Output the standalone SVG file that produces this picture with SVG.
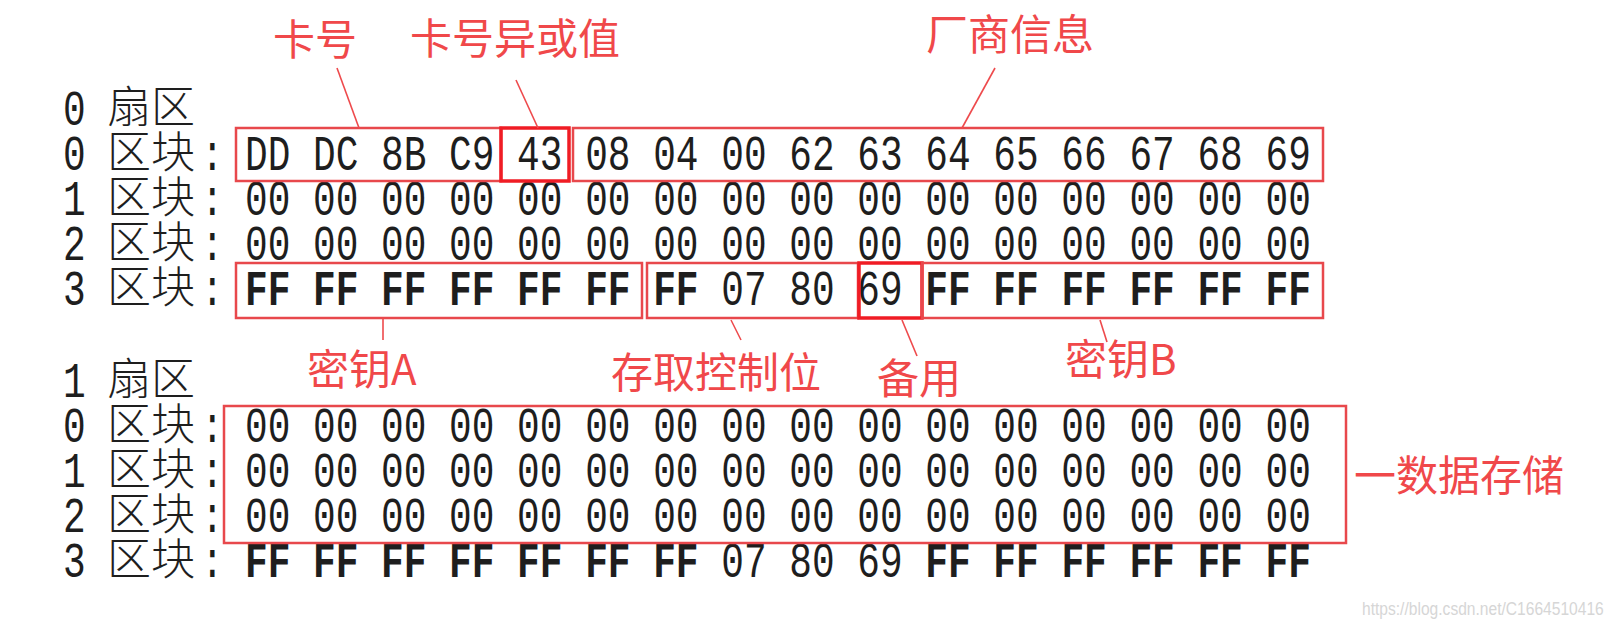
<svg xmlns="http://www.w3.org/2000/svg" width="1617" height="627" viewBox="0 0 1617 627">
<style>
.hex{font-family:"Liberation Mono","DejaVu Sans Mono",monospace;font-size:37.8px;fill:#1e1e1e}
.b{font-weight:bold}
.cjk{font-family:"Noto Sans CJK SC",sans-serif;font-size:44px;fill:#1e1e1e;font-weight:300}
.lbl{font-family:"Noto Sans CJK SC",sans-serif;font-size:42px;fill:#f0484a}
.box{fill:none;stroke:#e8484c;stroke-width:2.5}
.hot{fill:none;stroke:#f01c24;stroke-width:3.5}
.lead{stroke:#ee4a4c;stroke-width:1.6;fill:none}
.wm{font-family:"Liberation Sans",sans-serif;font-size:15.6px;fill:#d6d6d6}
</style>
<rect width="1617" height="627" fill="#ffffff"/>

<g id="sector0-labels">
  <text class="hex" transform="translate(63 125) scale(1 1.32)">0</text>
  <text class="cjk" x="107" y="123">扇区</text>
  <text class="hex" transform="translate(63 170) scale(1 1.32)">0</text>
  <text class="cjk" x="107" y="168">区块</text>
  <text class="hex" transform="translate(201 170) scale(1 1.32)">:</text>
  <text class="hex" transform="translate(63 215) scale(1 1.32)">1</text>
  <text class="cjk" x="107" y="213">区块</text>
  <text class="hex" transform="translate(201 215) scale(1 1.32)">:</text>
  <text class="hex" transform="translate(63 260) scale(1 1.32)">2</text>
  <text class="cjk" x="107" y="258">区块</text>
  <text class="hex" transform="translate(201 260) scale(1 1.32)">:</text>
  <text class="hex" transform="translate(63 305) scale(1 1.32)">3</text>
  <text class="cjk" x="107" y="303">区块</text>
  <text class="hex" transform="translate(201 305) scale(1 1.32)">:</text>
</g>

<g id="sector0-data">
  <text class="hex" transform="translate(245 170) scale(1 1.32)">DD DC 8B C9 43 08 04 00 62 63 64 65 66 67 68 69</text>
  <text class="hex" transform="translate(245 215) scale(1 1.32)">00 00 00 00 00 00 00 00 00 00 00 00 00 00 00 00</text>
  <text class="hex" transform="translate(245 260) scale(1 1.32)">00 00 00 00 00 00 00 00 00 00 00 00 00 00 00 00</text>
  <text class="hex" transform="translate(245 305) scale(1 1.32)"><tspan class="b">FF FF FF FF FF FF FF</tspan> 07 80 69 <tspan class="b">FF FF FF FF FF FF</tspan></text>
</g>

<g id="sector1-labels">
  <text class="hex" transform="translate(63 397) scale(1 1.32)">1</text>
  <text class="cjk" x="107" y="395">扇区</text>
  <text class="hex" transform="translate(63 442) scale(1 1.32)">0</text>
  <text class="cjk" x="107" y="440">区块</text>
  <text class="hex" transform="translate(201 442) scale(1 1.32)">:</text>
  <text class="hex" transform="translate(63 487) scale(1 1.32)">1</text>
  <text class="cjk" x="107" y="485">区块</text>
  <text class="hex" transform="translate(201 487) scale(1 1.32)">:</text>
  <text class="hex" transform="translate(63 532) scale(1 1.32)">2</text>
  <text class="cjk" x="107" y="530">区块</text>
  <text class="hex" transform="translate(201 532) scale(1 1.32)">:</text>
  <text class="hex" transform="translate(63 577) scale(1 1.32)">3</text>
  <text class="cjk" x="107" y="575">区块</text>
  <text class="hex" transform="translate(201 577) scale(1 1.32)">:</text>
</g>

<g id="sector1-data">
  <text class="hex" transform="translate(245 442) scale(1 1.32)">00 00 00 00 00 00 00 00 00 00 00 00 00 00 00 00</text>
  <text class="hex" transform="translate(245 487) scale(1 1.32)">00 00 00 00 00 00 00 00 00 00 00 00 00 00 00 00</text>
  <text class="hex" transform="translate(245 532) scale(1 1.32)">00 00 00 00 00 00 00 00 00 00 00 00 00 00 00 00</text>
  <text class="hex" transform="translate(245 577) scale(1 1.32)"><tspan class="b">FF FF FF FF FF FF FF</tspan> 07 80 69 <tspan class="b">FF FF FF FF FF FF</tspan></text>
</g>

<g id="card-number">
  <rect class="box" x="236" y="128" width="265" height="53"/>
  <text class="lbl" x="273" y="55">卡号</text>
</g>
<g id="card-xor">
  <rect class="hot" x="501" y="128" width="68" height="53"/>
  <text class="lbl" x="410" y="54">卡号异或值</text>
</g>
<g id="vendor-info">
  <rect class="box" x="573" y="128" width="750" height="53"/>
  <text class="lbl" x="926" y="50">厂商信息</text>
</g>
<g id="key-a">
  <rect class="box" x="236" y="263" width="406" height="55"/>
  <text class="lbl" x="307" y="385">密钥A</text>
</g>
<g id="access-bits">
  <rect class="box" x="647" y="263" width="211" height="55"/>
  <text class="lbl" x="611" y="388">存取控制位</text>
</g>
<g id="reserved">
  <rect class="hot" x="859" y="263" width="63" height="55"/>
  <text class="lbl" x="877" y="394">备用</text>
</g>
<g id="key-b">
  <rect class="box" x="922" y="263" width="401" height="55"/>
  <text class="lbl" x="1065" y="375">密钥B</text>
</g>
<g id="data-storage">
  <rect class="box" x="224" y="406" width="1122" height="137"/>
  <text class="lbl" x="1354" y="491">一数据存储</text>
</g>

<g id="connectors">
  <line class="lead" x1="337" y1="68" x2="359" y2="128"/>
  <line class="lead" x1="516" y1="80" x2="538" y2="128"/>
  <line class="lead" x1="995" y1="68" x2="962" y2="128"/>
  <line class="lead" x1="383" y1="318" x2="383" y2="340"/>
  <line class="lead" x1="731" y1="320" x2="741" y2="340"/>
  <line class="lead" x1="902" y1="320" x2="917" y2="356"/>
  <line class="lead" x1="1100" y1="320" x2="1107" y2="342"/>
</g>

<text class="wm" transform="translate(1362 615) scale(1 1.15)">https://blog.csdn.net/C1664510416</text>
</svg>
